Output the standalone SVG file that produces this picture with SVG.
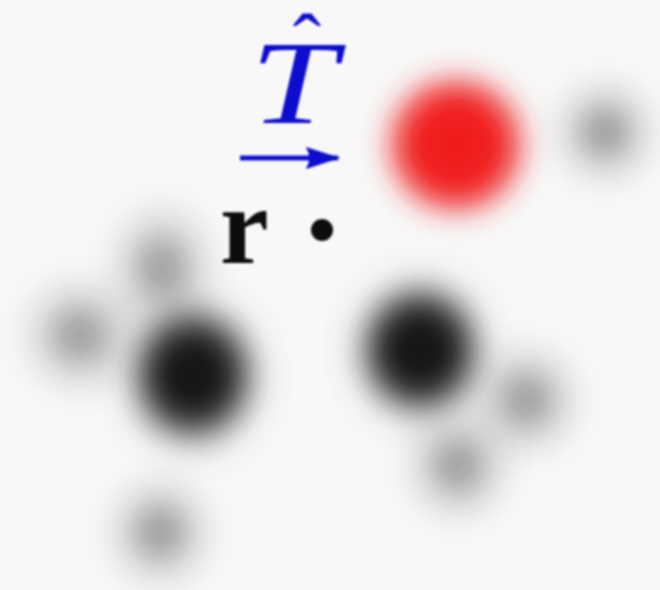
<svg xmlns="http://www.w3.org/2000/svg" width="660" height="590" viewBox="0 0 660 590">
<defs>
<radialGradient id="gDark">
<stop offset="0" stop-color="#141414" stop-opacity="1"/>
<stop offset="0.167" stop-color="#141414" stop-opacity="0.977"/>
<stop offset="0.25" stop-color="#141414" stop-opacity="0.93"/>
<stop offset="0.333" stop-color="#141414" stop-opacity="0.84"/>
<stop offset="0.417" stop-color="#141414" stop-opacity="0.69"/>
<stop offset="0.5" stop-color="#141414" stop-opacity="0.5"/>
<stop offset="0.583" stop-color="#141414" stop-opacity="0.31"/>
<stop offset="0.667" stop-color="#141414" stop-opacity="0.16"/>
<stop offset="0.75" stop-color="#141414" stop-opacity="0.067"/>
<stop offset="0.833" stop-color="#141414" stop-opacity="0.023"/>
<stop offset="1" stop-color="#141414" stop-opacity="0"/>
</radialGradient>
<radialGradient id="gGray">
<stop offset="0" stop-color="#000" stop-opacity="0.33"/>
<stop offset="0.17" stop-color="#000" stop-opacity="0.29"/>
<stop offset="0.33" stop-color="#000" stop-opacity="0.2"/>
<stop offset="0.5" stop-color="#000" stop-opacity="0.105"/>
<stop offset="0.67" stop-color="#000" stop-opacity="0.045"/>
<stop offset="0.83" stop-color="#000" stop-opacity="0.013"/>
<stop offset="1" stop-color="#000" stop-opacity="0"/>
</radialGradient>
<radialGradient id="gRed">
<stop offset="0" stop-color="#f01818" stop-opacity="1"/>
<stop offset="0.33" stop-color="#f01c1c" stop-opacity="0.97"/>
<stop offset="0.44" stop-color="#f02020" stop-opacity="0.87"/>
<stop offset="0.56" stop-color="#f02828" stop-opacity="0.65"/>
<stop offset="0.67" stop-color="#f03030" stop-opacity="0.35"/>
<stop offset="0.78" stop-color="#f03838" stop-opacity="0.125"/>
<stop offset="0.89" stop-color="#f04040" stop-opacity="0.03"/>
<stop offset="1" stop-color="#f04040" stop-opacity="0"/>
</radialGradient>
<filter id="b0" x="-50%" y="-50%" width="200%" height="200%"><feGaussianBlur stdDeviation="1"/></filter>
<marker id="ah" viewBox="0 0 14 10" refX="13" refY="5" markerWidth="7" markerHeight="5" orient="auto" markerUnits="strokeWidth"><path d="M0,0.5 L14,5 L0,9.5 Q3,5 0,0.5 Z" fill="#1010d0"/></marker>
<style>
.dark{fill:url(#gDark)}
.gray{fill:url(#gGray)}
.lbl{font-family:"Liberation Serif","Times New Roman",serif}
</style>
</defs>
<rect width="660" height="590" fill="#f8f8f8"/>
<g id="blobs">
<ellipse class="gray" cx="605" cy="132" rx="76" ry="78"/>
<ellipse class="gray" cx="162" cy="268" rx="78" ry="92"/>
<ellipse class="gray" cx="80" cy="335" rx="84" ry="84"/>
<ellipse class="gray" cx="526" cy="400" rx="80" ry="82"/>
<ellipse class="gray" cx="458" cy="465" rx="78" ry="82"/>
<ellipse class="gray" cx="160" cy="532" rx="78" ry="82"/>
<ellipse class="dark" cx="193" cy="375" rx="104" ry="112"/>
<ellipse class="dark" cx="420" cy="350" rx="102" ry="108"/>
<circle cx="456" cy="145" r="102" fill="url(#gRed)"/>
</g>
<g id="labels" class="lbl" filter="url(#b0)">
<text x="307" y="72" font-size="85" fill="#1010d0" text-anchor="middle">ˆ</text>
<text transform="translate(250,123) scale(1.32,1)" x="0" y="0" font-size="118" font-style="italic" fill="#1010d0">T</text>
<line x1="240" y1="158" x2="338" y2="158" stroke="#1010d0" stroke-width="5" marker-end="url(#ah)"/>
<text x="220" y="263" font-size="110" font-weight="bold" fill="#111">r</text>
<circle cx="322" cy="230" r="11" fill="#111"/>
</g>
</svg>
